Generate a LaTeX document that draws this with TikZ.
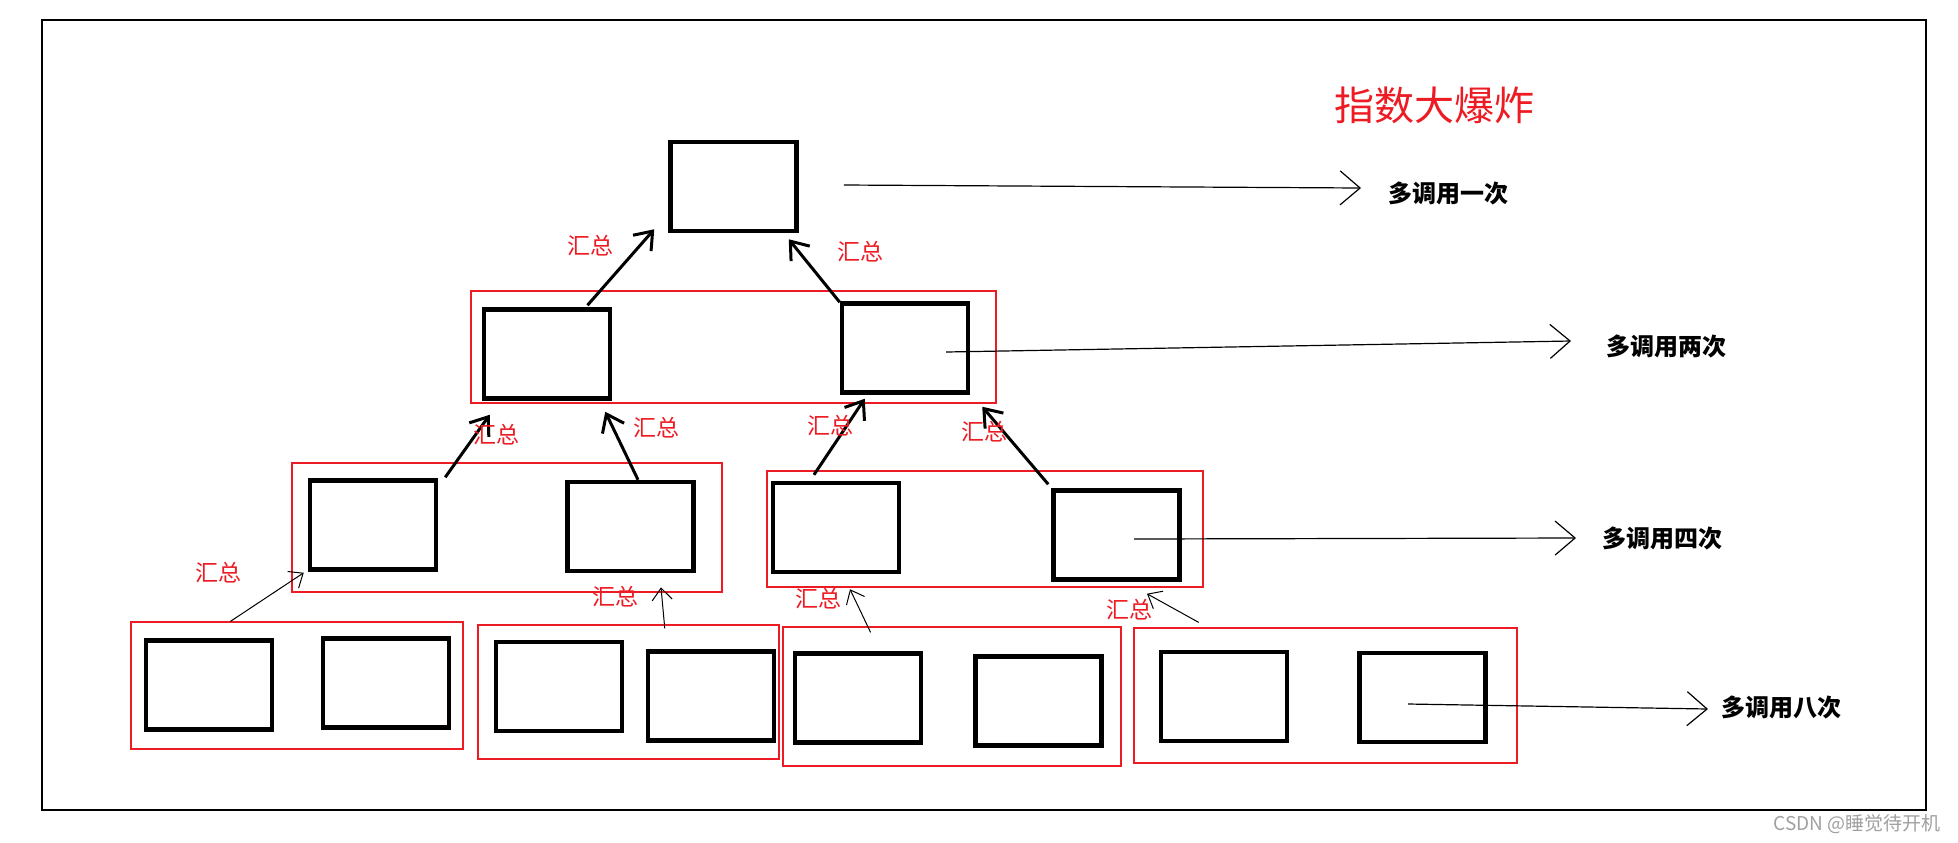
\documentclass[tikz,border=0pt]{standalone}
\usepackage{fontspec}
\setmainfont{Noto Sans CJK SC}
\usetikzlibrary{arrows.meta,calc}
\definecolor{pred}{RGB}{237,28,36}
\definecolor{wmgray}{RGB}{160,160,160}
\tikzset{
 bx/.style={draw=black, line width=2.25pt, minimum width=63pt, minimum height=44.5pt, inner sep=0pt},
 rbox/.style={draw=pred, line width=0.6pt, inner sep=0pt},
 thk/.style={line width=1.5pt, -{Straight Barb[length=8pt,width=12pt]}},
 thn/.style={line width=0.5pt, -{Straight Barb[length=6pt,width=10pt]}},
 lng/.style={line width=0.6pt, -{Straight Barb[length=10pt,width=17pt]}},
 sumlbl/.style={text=pred, font=\fontsize{11.5pt}{12pt}\selectfont, inner sep=0pt},
 cnt/.style={font=\bfseries\fontsize{12pt}{13pt}\selectfont, inner sep=0pt, anchor=west},
}
\begin{document}
\begin{tikzpicture}[x={(0.5pt,0)}, y={(0,-0.5pt)}]
\fill[white] (0,0) rectangle (1958,842);
\useasboundingbox (0,0) rectangle (1958,842);
\draw[line width=0.75pt] (42,20) rectangle (1926,810);

% red group frames
\node[rbox, minimum width=262.5pt, minimum height=56pt] (r2) at (733.5,347) {};
\node[rbox, minimum width=215pt, minimum height=64.5pt] (r3a) at (507,527.5) {};
\node[rbox, minimum width=218pt, minimum height=58pt] (r3b) at (985,529) {};
\node[rbox, minimum width=166pt, minimum height=63.5pt] (r4a) at (297,685.5) {};
\node[rbox, minimum width=150.5pt, minimum height=67pt] (r4b) at (628.5,692) {};
\node[rbox, minimum width=169pt, minimum height=69.5pt] (r4c) at (952,696.5) {};
\node[rbox, minimum width=191.5pt, minimum height=67.5pt] (r4d) at (1325.5,695.5) {};

% boxes
\node[bx] (t) at (733.5,186.5) {};
\node[bx] (b2a) at (547,354) {};
\node[bx] (b2b) at (905,348) {};
\node[bx] (b3a) at (373,525) {};
\node[bx] (b3b) at (630.5,526.5) {};
\node[bx] (b3c) at (836,527.5) {};
\node[bx] (b3d) at (1116.5,535) {};
\node[bx] (b4a) at (209,685) {};
\node[bx] (b4b) at (386,683) {};
\node[bx] (b4c) at (559,686.5) {};
\node[bx] (b4d) at (711,696) {};
\node[bx] (b4e) at (858,698) {};
\node[bx] (b4f) at (1038.5,701) {};
\node[bx] (b4g) at (1224,696.5) {};
\node[bx] (b4h) at (1422.5,697.5) {};

% thick summary arrows
\draw[thk] ($(b2a.north west)!0.81!(b2a.north east)+(0,-2)$) -- ($(t.south west)+(-14,-4)$);
\draw[thk] ($(b2b.north west)+(0,1)$) -- ($(t.south east)+(-10,6)$);
\draw[thk] ($(b3a.north east)+(7,-1)$) -- ($(b2a.south west)+(8,14)$);
\draw[thk] ($(b3b.north)+(7.5,0)$) -- ($(b2a.south east)+(-7,11)$);
\draw[thk] ($(b3c.north)+(-22,-6)$) -- ($(b2b.south west)+(25,4)$);
\draw[thk] ($(b3d.north west)+(-3,-4)$) -- ($(b2b.south east)+(12,12)$);

% thin summary arrows
\draw[thn] ($(r4a.north west)!0.30!(r4a.north east)$) -- ($(b3a.south west)+(-4,1)$);
\draw[thn] ($(r4b.north west)!0.62!(r4b.north east)+(0,4)$) -- ($(b3b.south)+(30.5,14)$);
\draw[thn] ($(r4c.north west)!0.26!(r4c.north east)+(0,6)$) -- ($(b3c.south)+(14,15)$);
\draw[thn] ($(r4d.north west)!0.17!(r4d.north east)+(0,-5)$) -- ($(b3d.south)+(30.5,12)$);

% labels
\node[sumlbl] (s1) at (590,246) {汇总};
\node[sumlbl] (s2) at (860,252) {汇总};
\node[sumlbl] (s3) at (496,435) {汇总};
\node[sumlbl] (s4) at (656,428) {汇总};
\node[sumlbl] (s5) at (830,426) {汇总};
\node[sumlbl] (s6) at (984,432) {汇总};
\node[sumlbl] (s7) at (218,573) {汇总};
\node[sumlbl] (s8) at (615,597) {汇总};
\node[sumlbl] (s9) at (818,599) {汇总};
\node[sumlbl] (s10) at (1129,610) {汇总};

% call-count arrows
\node[cnt] (l1) at (1388,193) {多调用一次};
\draw[lng] ($(t.east)+(45,-1.5)$) -- ($(l1.west)+(-27,-5)$);
\node[cnt] (l2) at (1606,346) {多调用两次};
\draw[lng] ($(b2b.center)+(41,4)$) -- ($(l2.west)+(-35,-5)$);
\node[cnt] (l3) at (1602,538) {多调用四次};
\draw[lng] ($(b3d.center)+(17.5,4)$) -- ($(l3.west)+(-26,0)$);
\node[cnt] (l4) at (1721,707) {多调用八次};
\draw[lng] ($(b4h.center)+(-14.5,6.5)$) -- ($(l4.west)+(-13,2)$);

\node[text=pred, font=\fontsize{20pt}{22pt}\selectfont, inner sep=0pt] (title) at (1434,105) {指数大爆炸};
\node[text=wmgray, font=\fontsize{9.5pt}{10pt}\selectfont, inner sep=0pt] (wm) at (1857,824) {CSDN @睡觉待开机};
\end{tikzpicture}
\end{document}
